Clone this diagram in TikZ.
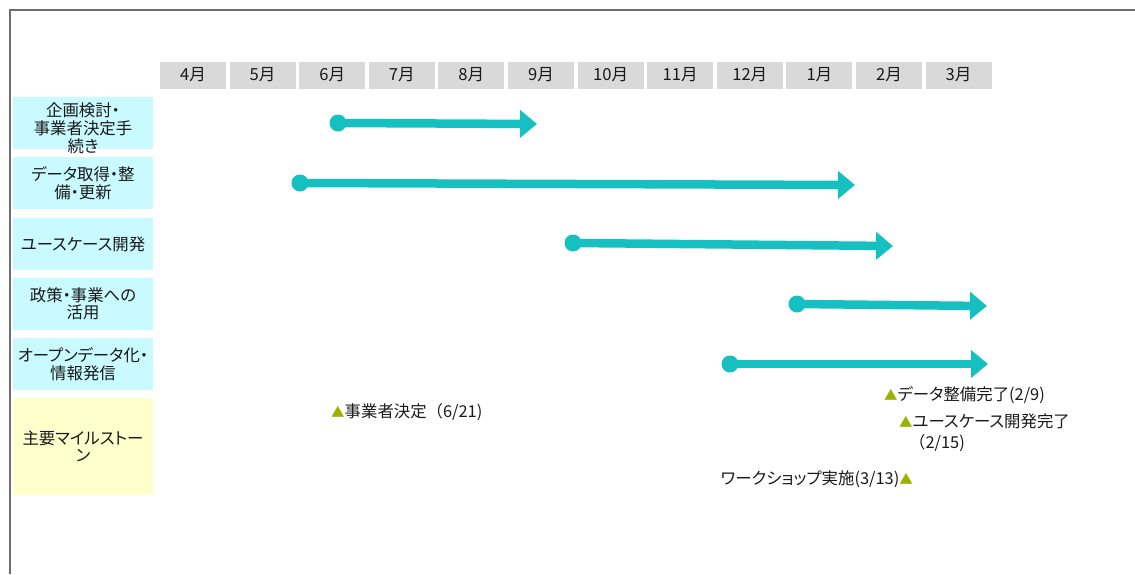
\documentclass[tikz,border=0pt]{standalone}
\usepackage{fontspec}
\setmainfont{Noto Sans CJK JP}[RawFeature={+palt}]
\usetikzlibrary{arrows.meta,positioning}
\definecolor{barteal}{RGB}{22,192,192}
\definecolor{labelcyan}{RGB}{200,250,255}
\definecolor{labelyellow}{RGB}{255,255,204}
\definecolor{cellgray}{RGB}{217,217,217}
\definecolor{markolive}{RGB}{155,178,0}
\definecolor{framegray}{RGB}{110,110,110}
\definecolor{textdark}{RGB}{25,25,25}
\newcommand{\tri}{{\color{markolive}\fontsize{13.5}{13.5}\selectfont ▲}}
\newcommand{\wideparen}{{\addfontfeature{RawFeature=-palt}（}}
\tikzset{
    monthcell/.style={fill=cellgray, text=textdark, minimum width=66pt, minimum height=27pt, inner sep=0pt, font=\fontsize{16.6}{18}\selectfont},
    rowlabel/.style={fill=labelcyan, text=textdark, minimum width=140pt, minimum height=52pt, inner sep=0pt, align=center, font=\fontsize{16.4}{17.5}\selectfont},
    bar/.style={barteal, line width=8.5pt, -{Triangle[length=17pt,width=27pt]}},
    startdot/.style={circle, fill=barteal, minimum size=17pt, inner sep=0pt},
    milestone/.style={anchor=west, inner sep=0pt, align=left, text=textdark, font=\fontsize{16.4}{21}\selectfont}}

\begin{document}
\begin{tikzpicture}[x=1pt,y=-1pt]
\useasboundingbox (0,0) rectangle (1135,574);
\draw[framegray, line width=1.8pt] (1135,10) -| (10,574);
\foreach \m [count=\i from 0] in {4,5,6,7,8,9,10,11,12,1,2,3}
  \node[monthcell] (m\m) at (193+69.6*\i,75) {\m{}月};
\node[rowlabel] (plan) at (83,123) {\raisebox{-5pt}[\height][\depth]{\shortstack{企画検討・\\事業者決定手\\続き}}};
\node[rowlabel] (data) at (83,183) {データ取得・整\\備・更新};
\node[rowlabel] (usecase) at (83,244) {ユースケース開発};
\node[rowlabel] (policy) at (83,304) {政策・事業への\\活用};
\node[rowlabel] (open) at (83,364) {オープンデータ化・\\情報発信};
\node[rowlabel, fill=labelyellow, minimum height=97pt] (miles) at (83,446.5) {主要マイルストー\\ン};
\node[startdot] (s1) at (338,123) {};
\coordinate (e1) at (537,124);
\draw[bar] (s1.center) -- (e1);
\node[startdot] (s2) at (300,183) {};
\coordinate (e2) at (855,185);
\draw[bar] (s2.center) -- (e2);
\node[startdot] (s3) at (573,243) {};
\coordinate (e3) at (893,246);
\draw[bar] (s3.center) -- (e3);
\node[startdot] (s4) at (797,304) {};
\coordinate (e4) at (987,306);
\draw[bar] (s4.center) -- (e4);
\node[startdot] (s5) at (730,364) {};
\coordinate (e5) at (988,364);
\draw[bar] (s5.center) -- (e5);
\node[milestone] (ms1) at (331,412) {\tri 事業者決定\wideparen 6/21)};
\node[milestone] (ms2) at (884,395) {\tri データ整備完了(2/9)};
\node[milestone] (ms3) at (899,432.5) {\tri ユースケース開発完了\\\hspace{10pt}\wideparen 2/15)};
\node[milestone, anchor=east] (ms4) at (913,479) {ワークショップ実施(3/13)\tri};
\end{tikzpicture}
\end{document}
